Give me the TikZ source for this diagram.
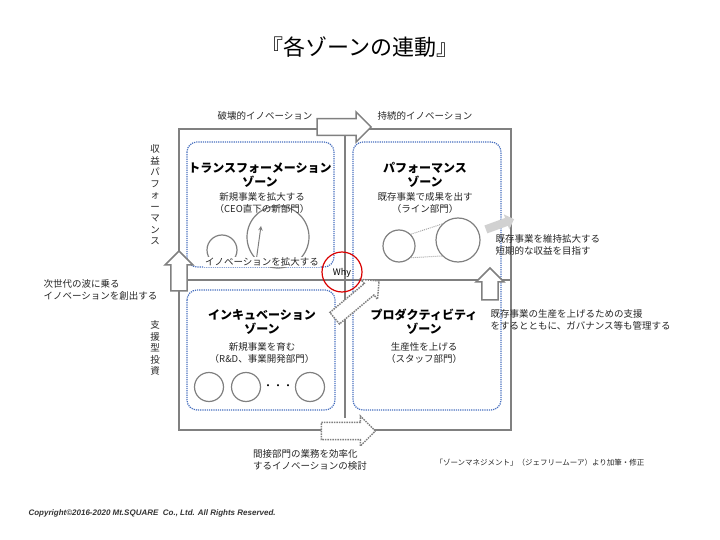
\documentclass[tikz,border=0pt]{standalone}
\usepackage{fontspec}
\setmainfont{Noto Sans CJK JP}
\newfontfamily\cpfont{Liberation Sans}
\usetikzlibrary{shapes.arrows}
\definecolor{fr}{RGB}{128,128,128}
\definecolor{bl}{RGB}{70,110,190}
\begin{document}
\begin{tikzpicture}[x=1pt,y=-1pt,
  t/.style={font=\fontsize{9.5}{11.5}\selectfont,align=center,text=black!85},
  h/.style={font=\bfseries\fontsize{12}{14}\selectfont,align=center},
  dz/.style={draw=bl,densely dotted,line width=1.2pt,rounded corners=10pt},
  circ/.style={draw=fr,line width=1.2pt,circle}]
\useasboundingbox (0,0) rectangle (720,540);
\node (title) at (360,47) {\fontsize{22}{26}\selectfont 『各ゾーンの連動』};
% frame
\draw[fr,line width=1.5pt] (179,129) rectangle (511,430);
\draw[fr,line width=1.5pt] (345,129) -- (345,418);
\draw[fr,line width=1.5pt] (185,280) -- (511,280);
% zones
\draw[dz] (187,142) rectangle (334,267);
\draw[dz] (187,290) rectangle (335,410);
\draw[dz] (353,142) rectangle (501,410);
% circles TL
\node[circ,minimum size=30pt] (c1) at (222,250) {};
\node[circ,minimum size=62pt] (c2) at (278,237) {};
\coordinate (a0) at (256,262); \coordinate (a1) at (261,226);
\draw[fr,line width=1pt,-stealth] (a0) -- (a1);
% circles TR
\node[circ,minimum size=32pt] (c3) at (399,246) {};
\node[circ,minimum size=44pt] (c4) at (458,240) {};
\draw[fr!70,densely dotted,line width=1pt] (c3.north east) -- (c4.north west);
\draw[fr!70,densely dotted,line width=1pt] (c3.south east) -- (c4.south west);
% circles BL
\node[circ,minimum size=29pt] (c5) at (209,387) {};
\node[circ,minimum size=29pt] (c6) at (246,387) {};
\node[circ,minimum size=29pt] (c7) at (310,387) {};
\node (dots) at (278,387) {・・・};
% labels
\node[t] (l1) at (265,116) {破壊的イノベーション};
\node[t] (l2) at (425,116) {持続的イノベーション};
\node[t] (l3) at (155,195) {収\\益\\パ\\フ\\ォ\\ー\\マ\\ン\\ス};
\node[t] (l4) at (155,348) {支\\援\\型\\投\\資};
\node[t,align=left,anchor=west] (l5) at (40,290) {次世代の波に乗る\\イノベーションを創出する};
\node[t,align=left,anchor=west] (l6) at (492,245) {既存事業を維持拡大する\\短期的な収益を目指す};
\node[t,align=left,anchor=west] (l7) at (487,320) {既存事業の生産を上げるための支援\\をするとともに、ガバナンス等も管理する};
\node[t,align=left] (l8) at (310,460) {間接部門の業務を効率化\\するイノベーションの検討};
\node[t,font=\fontsize{7.5}{9}\selectfont] (l9) at (540,463) {「ゾーンマネジメント」（ジェフリームーア）より加筆・修正};
\node[font=\cpfont\bfseries\itshape\fontsize{8}{10}\selectfont,anchor=west,text=black!80] (cp) at (25,513) {Copyright©2016-2020 Mt.SQUARE\ \ Co., Ltd. All Rights Reserved.};
% zone titles
\node[h] (z1) at (260,175) {トランスフォーメーション\\ゾーン};
\node[t] (z1b) at (262,203) {新規事業を拡大する\\（CEO直下の新部門）};
\node[h] (z2) at (425,175) {パフォーマンス\\ゾーン};
\node[t] (z2b) at (425,203) {既存事業で成果を出す\\（ライン部門）};
\node[h] (z3) at (262,322) {インキュベーション\\ゾーン};
\node[t] (z3b) at (262,353) {新規事業を育む\\（R\&D、事業開発部門）};
\node[h] (z4) at (424,322) {プロダクティビティ\\ゾーン};
\node[t] (z4b) at (424,353) {生産性を上げる\\（スタッフ部門）};
\node[t,fill=white,inner sep=1pt] (ib) at (262,262) {イノベーションを拡大する};
% arrows
\node[single arrow,draw=fr,fill=white,line width=1.5pt,minimum height=54pt,minimum width=30pt,single arrow head extend=3pt,inner sep=3pt] (ar1) at (340,127) {};
\node[single arrow,draw=fr,fill=white,densely dotted,line width=1.5pt,minimum height=54pt,minimum width=30pt,single arrow head extend=3pt] (ar2) at (344,431) {};
\node[single arrow,draw=fr,fill=white,line width=1.5pt,minimum height=40pt,minimum width=28pt,single arrow head extend=3pt,shape border rotate=90] (ar3) at (179,275) {};
\node[single arrow,draw=fr,fill=white,line width=1.5pt,minimum height=32pt,minimum width=28pt,single arrow head extend=3pt,shape border rotate=90] (ar4) at (490,288) {};
\node[single arrow,draw=fr,fill=white,densely dotted,line width=1.5pt,minimum height=58pt,minimum width=26pt,single arrow head extend=3pt,rotate=40] (ar5) at (354,302) {};
\node[single arrow,fill=black!18,minimum height=30pt,minimum width=16pt,single arrow head extend=2pt,rotate=20,inner sep=2pt] (ar6) at (498,225) {};
% why
\node[circle,draw=red!85!black,line width=1.2pt,minimum size=40pt] (why) at (342,272) {};
\node[font=\fontsize{9}{11}\selectfont] (whyt) at (342,273) {Why};
\end{tikzpicture}
\end{document}
